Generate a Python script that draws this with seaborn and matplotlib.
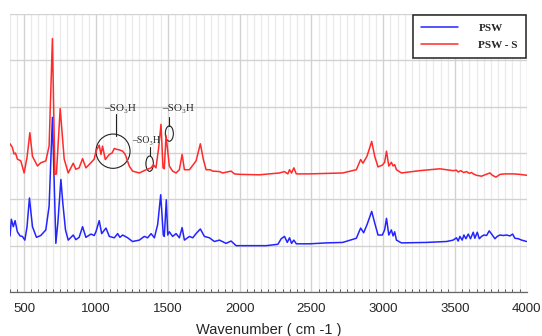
import matplotlib
matplotlib.use("Agg")
import matplotlib.pyplot as plt
from matplotlib.patches import Ellipse
from matplotlib.ticker import MultipleLocator
import pandas as pd
import seaborn as sns

# FTIR spectra (wavenumber, offset absorbance)
psw_wn = [402, 411, 425, 437, 453, 472, 488, 505, 520, 537, 558, 586, 616, 651, 674,
          697, 721, 735, 756, 770, 788, 807, 842, 860, 883, 907, 930, 965, 988, 1000,
          1023, 1040, 1070, 1093, 1128, 1151, 1167, 1186, 1221, 1255, 1302, 1337, 1360,
          1384, 1407, 1430, 1451, 1469, 1476, 1490, 1500, 1511, 1534, 1558, 1581, 1600,
          1616, 1651, 1674, 1697, 1727, 1755, 1790, 1825, 1860, 1906, 1941, 1976, 2046,
          2185, 2267, 2290, 2313, 2332, 2348, 2362, 2378, 2395, 2488, 2604, 2718, 2813,
          2843, 2864, 2887, 2920, 2941, 2964, 2994, 3010, 3023, 3039, 3057, 3069, 3080,
          3092, 3127, 3301, 3441, 3487, 3510, 3522, 3534, 3550, 3562, 3576, 3592, 3608,
          3627, 3638, 3655, 3669, 3685, 3701, 3720, 3738, 3755, 3778, 3794, 3813, 3836,
          3859, 3882, 3901, 3917, 3941, 3964, 3999]
psw_abs = [1.21, 1.57, 1.41, 1.54, 1.30, 1.21, 1.20, 1.12, 1.40, 2.03, 1.41, 1.18, 1.22,
           1.34, 1.85, 3.77, 1.05, 1.50, 2.43, 1.90, 1.34, 1.12, 1.23, 1.13, 1.18, 1.41,
           1.18, 1.25, 1.22, 1.30, 1.54, 1.26, 1.38, 1.20, 1.17, 1.26, 1.18, 1.23, 1.17,
           1.09, 1.12, 1.20, 1.17, 1.26, 1.17, 1.46, 2.10, 1.23, 1.20, 1.99, 1.23, 1.30,
           1.20, 1.26, 1.17, 1.39, 1.12, 1.20, 1.17, 1.26, 1.36, 1.20, 1.17, 1.09, 1.12,
           1.05, 1.10, 1.00, 1.00, 1.00, 1.03, 1.15, 1.20, 1.07, 1.17, 1.05, 1.12, 1.04,
           1.04, 1.06, 1.07, 1.16, 1.38, 1.28, 1.45, 1.74, 1.49, 1.23, 1.23, 1.34, 1.59,
           1.23, 1.34, 1.21, 1.30, 1.12, 1.06, 1.07, 1.09, 1.12, 1.17, 1.10, 1.20, 1.12,
           1.23, 1.15, 1.25, 1.15, 1.29, 1.16, 1.29, 1.15, 1.20, 1.23, 1.22, 1.32, 1.25,
           1.15, 1.20, 1.23, 1.22, 1.23, 1.21, 1.25, 1.16, 1.15, 1.12, 1.09]

psws_wn = [402, 418, 430, 440, 453, 477, 500, 520, 540, 558, 593, 616, 651, 674, 697,
           714, 725, 751, 779, 807, 842, 860, 883, 907, 930, 965, 988, 1000, 1023, 1035,
           1046, 1065, 1093, 1112, 1128, 1144, 1162, 1186, 1204, 1232, 1255, 1302, 1349,
           1384, 1400, 1418, 1437, 1453, 1467, 1476, 1488, 1511, 1534, 1558, 1581, 1600,
           1616, 1651, 1697, 1727, 1748, 1767, 1795, 1813, 1860, 1883, 1941, 1964, 2000,
           2139, 2278, 2313, 2336, 2348, 2362, 2378, 2395, 2488, 2604, 2718, 2813, 2843,
           2859, 2887, 2920, 2941, 2964, 2994, 3010, 3023, 3039, 3057, 3069, 3080, 3092,
           3127, 3255, 3394, 3487, 3510, 3522, 3540, 3560, 3580, 3600, 3615, 3627, 3650,
           3685, 3700, 3743, 3760, 3785, 3814, 3850, 3907, 3950, 4000]
psws_abs = [3.20, 3.12, 2.98, 3.00, 2.87, 2.83, 2.57, 2.90, 3.44, 2.93, 2.72, 2.79, 2.83,
            3.15, 5.47, 2.54, 2.55, 3.96, 2.87, 2.57, 2.78, 2.65, 2.68, 2.88, 2.68, 2.79,
            2.87, 3.04, 3.17, 2.97, 3.15, 2.86, 2.97, 3.00, 3.10, 3.08, 3.07, 3.04, 2.97,
            2.72, 2.61, 2.57, 2.64, 2.68, 2.75, 2.68, 3.12, 3.62, 2.68, 2.66, 3.38, 2.72,
            2.61, 2.57, 2.64, 2.97, 2.64, 2.64, 2.83, 3.20, 2.86, 2.64, 2.64, 2.61, 2.60,
            2.57, 2.61, 2.55, 2.54, 2.53, 2.57, 2.60, 2.55, 2.64, 2.57, 2.68, 2.55, 2.55,
            2.56, 2.57, 2.64, 2.86, 2.78, 2.93, 3.25, 2.93, 2.70, 2.74, 2.80, 3.04, 2.72,
            2.80, 2.72, 2.75, 2.64, 2.57, 2.62, 2.66, 2.62, 2.63, 2.59, 2.62, 2.58, 2.60,
            2.56, 2.58, 2.55, 2.52, 2.50, 2.52, 2.57, 2.52, 2.48, 2.54, 2.55, 2.55, 2.54,
            2.52]

series_labels = ["PSW", "PSW - S"]
series_colors = ["#2424ff", "#ff2a2a"]

# -SO3H marks: (label x, label y, line x, line top, line bottom, ellipse x, y, w, h, fontsize)
marks = [
    (1060, 3.96, 1139, 3.85, 3.37, 1119, 3.04, 237, 0.74, 8),
    (1250, 3.28, 1376, 3.12, 2.93, 1374, 2.77, 52, 0.33, 7),
    (1462, 3.96, 1511, 3.77, 3.59, 1511, 3.42, 56, 0.33, 8),
]

sns.set_style("whitegrid")
fig = plt.figure(figsize=(5.42, 3.36), dpi=100)
ax = fig.add_axes([0.018, 0.131, 0.954, 0.827])

sns.lineplot(x=psw_wn, y=psw_abs, color=series_colors[0], lw=1.1,
             label=series_labels[0], ax=ax, sort=False)
sns.lineplot(x=psws_wn, y=psws_abs, color=series_colors[1], lw=1.1,
             label=series_labels[1], ax=ax, sort=False)

ax.set_xlim(400, 4000)
ax.set_ylim(0, 6)
ax.xaxis.set_major_locator(MultipleLocator(500))
ax.xaxis.set_minor_locator(MultipleLocator(50))
ax.yaxis.set_major_locator(MultipleLocator(1))
ax.set_yticklabels([])
ax.grid(which="major", color="#d2d2d2", lw=1.0)
ax.grid(which="minor", axis="x", color="#eaeaea", lw=0.9)
ax.tick_params(axis="y", length=0)
ax.tick_params(axis="x", which="major", direction="out", length=4, width=0.8,
               color="#555555", labelsize=9.5, pad=4)
ax.tick_params(axis="x", which="minor", direction="in", length=2.5, width=0.7,
               color="#555555", bottom=True)
for side in ["left", "top", "right"]:
    ax.spines[side].set_visible(False)
ax.spines["bottom"].set_color("#666666")
ax.spines["bottom"].set_linewidth(0.9)
ax.set_xlabel("Wavenumber ( cm -1 )", fontsize=10.5, labelpad=6,
              family=["Liberation Sans", "DejaVu Sans"])
ax.set_ylabel("")
for lab in ax.get_xticklabels():
    lab.set_family(["Liberation Sans", "DejaVu Sans"])

for tx, ty, lx, l1, l2, ex, ey, ew, eh, fs in marks:
    ax.text(tx, ty, "–SO₃H", fontsize=fs, va="center", ha="left",
            family=["Liberation Serif", "DejaVu Serif"])
    ax.plot([lx, lx], [l1, l2], color="#222222", lw=0.8)
    ax.add_patch(Ellipse((ex, ey), ew, eh, fill=False, ec="#222222", lw=0.8))

leg = ax.legend(loc="upper right", fancybox=False, framealpha=1,
                edgecolor="#222222", borderpad=0.7, handlelength=3.4,
                handletextpad=1.8, labelspacing=0.7, borderaxespad=0.1,
                prop={"family": ["Liberation Serif", "DejaVu Serif"],
                      "weight": "bold", "size": 8},
                bbox_to_anchor=(1.0, 1.0))
leg.get_frame().set_linewidth(1.1)

fig.savefig("out.png", dpi=100)
